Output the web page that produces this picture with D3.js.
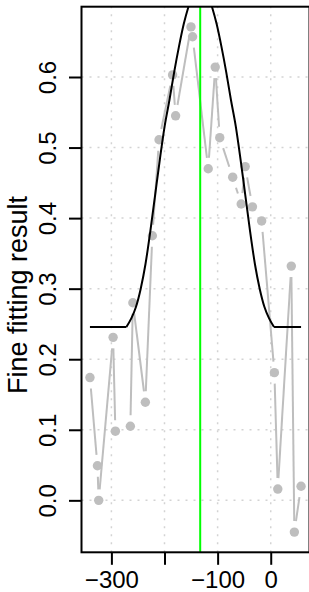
<!DOCTYPE html>
<html>
<head>
<meta charset="utf-8">
<script src="https://cdn.jsdelivr.net/npm/d3@7"></script>
<style>
  body { margin: 0; background: #fff; }
  text { font-family: "Liberation Sans", Arial, sans-serif; fill: #000; }
</style>
</head>
<body>
<script>
const width = 309;
const height = 592;

// observed points (x position, fine fitting result)
const pointX = [-340.4, -326.3, -323.9, -296.8, -292.5, -264.3, -259.6, -236.1, -222.9, -210.3,
                -184.8, -179.1, -150.2, -147.2, -117.7, -104.5, -96.0, -71.6, -55.6, -48.1,
                -34.4, -17.1, 6.9, 13.3, 38.7, 44.5, 57.1];
const pointY = [0.174, 0.049, 0.000, 0.231, 0.098, 0.105, 0.280, 0.139, 0.375, 0.511,
                0.603, 0.545, 0.671, 0.657, 0.470, 0.614, 0.514, 0.458, 0.420, 0.473,
                0.416, 0.396, 0.181, 0.016, 0.332, -0.045, 0.020];

// fitted curve
const fitX = [-340.4, -271.8, -262.8, -253.8, -244.8, -235.8, -226.8, -217.8, -208.8, -199.8,
              -190.8, -181.8, -172.8, -163.8, -154.8, -144.8, -132.8, -120.8, -110.8, -101.8,
              -92.8, -83.8, -74.8, -65.8, -56.8, -47.8, -38.8, -29.8, -20.8, -11.8,
              -2.8, 6.2, 57.1];
const fitY = [0.2457, 0.2457, 0.2575, 0.274, 0.300, 0.335, 0.381, 0.432, 0.483, 0.530,
              0.567, 0.607, 0.643, 0.675, 0.700, 0.722, 0.733, 0.722, 0.700, 0.675,
              0.643, 0.607, 0.567, 0.530, 0.483, 0.432, 0.381, 0.335, 0.300, 0.274,
              0.2575, 0.2457, 0.2457];

const centerX = -132.8;
const xTicks = [-300, -200, -100, 0];
const yTicks = [0.0, 0.1, 0.2, 0.3, 0.4, 0.5, 0.6];
const yLabel = "Fine fitting result";

const plotLeft = 81.5, plotRight = 309.5, plotTop = 6.7, plotBottom = 552.3;
const tickFont = 24, labelFont = 27;

// R style 4% padding on the data range
function padded(vals) {
    let ext = d3.extent(vals);
    let pad = (ext[1] - ext[0]) * 0.04;
    return [ext[0] - pad, ext[1] + pad];
}

const x = d3.scaleLinear().domain(padded(pointX)).range([plotLeft, plotRight]);
const y = d3.scaleLinear().domain(padded(pointY)).range([plotBottom, plotTop]);

let svg = d3.select("body")
    .append("svg")
    .attr("width", width)
    .attr("height", height)
    .attr("xmlns", "http://www.w3.org/2000/svg");

svg.append("defs").append("clipPath")
    .attr("id", "plotclip")
    .append("rect")
    .attr("x", plotLeft)
    .attr("y", plotTop)
    .attr("width", plotRight - plotLeft)
    .attr("height", plotBottom - plotTop);

// dotted grid
let grid = svg.append("g")
    .attr("stroke", "#d3d3d3")
    .attr("stroke-width", 1.5)
    .attr("stroke-dasharray", "2,6");
grid.selectAll("line.gx").data(xTicks).enter().append("line")
    .attr("x1", d => x(d)).attr("x2", d => x(d))
    .attr("y1", plotBottom).attr("y2", plotTop);
grid.selectAll("line.gy").data(yTicks).enter().append("line")
    .attr("x1", plotLeft).attr("x2", plotRight)
    .attr("y1", d => y(d)).attr("y2", d => y(d));

let plot = svg.append("g").attr("clip-path", "url(#plotclip)");

// gray connecting segments with gaps around points (type = "b")
const gap = 11;
let segs = [];
for (let i = 0; i < pointX.length - 1; i++) {
    let x0 = x(pointX[i]), y0 = y(pointY[i]);
    let x1 = x(pointX[i + 1]), y1 = y(pointY[i + 1]);
    let len = Math.hypot(x1 - x0, y1 - y0);
    if (len <= 2 * gap) continue;
    let ux = (x1 - x0) / len, uy = (y1 - y0) / len;
    segs.push([x0 + ux * gap, y0 + uy * gap, x1 - ux * gap, y1 - uy * gap]);
}
plot.selectAll("line.seg").data(segs).enter().append("line")
    .attr("x1", d => d[0]).attr("y1", d => d[1])
    .attr("x2", d => d[2]).attr("y2", d => d[3])
    .attr("stroke", "#bebebe")
    .attr("stroke-width", 2);

plot.selectAll("circle").data(pointX).enter().append("circle")
    .attr("cx", (d, i) => x(d))
    .attr("cy", (d, i) => y(pointY[i]))
    .attr("r", 4.7)
    .attr("fill", "#bebebe");

// fitted curve: flat baseline parts + smooth bell
let fitPts = fitX.map((d, i) => [d, fitY[i]]);
let n = fitPts.length;
let lineLin = d3.line().x(d => x(d[0])).y(d => y(d[1]));
let lineSmooth = d3.line().x(d => x(d[0])).y(d => y(d[1])).curve(d3.curveMonotoneX);
plot.append("path")
    .attr("d", lineLin(fitPts.slice(0, 2)))
    .attr("fill", "none").attr("stroke", "#000").attr("stroke-width", 2);
plot.append("path")
    .attr("d", lineSmooth(fitPts.slice(1, n - 1)))
    .attr("fill", "none").attr("stroke", "#000").attr("stroke-width", 2);
plot.append("path")
    .attr("d", lineLin(fitPts.slice(n - 2)))
    .attr("fill", "none").attr("stroke", "#000").attr("stroke-width", 2);

// green centre line
plot.append("line")
    .attr("x1", x(centerX)).attr("x2", x(centerX))
    .attr("y1", plotTop).attr("y2", plotBottom)
    .attr("stroke", "#00ff00")
    .attr("stroke-width", 2);

// box
svg.append("rect")
    .attr("x", plotLeft).attr("y", plotTop)
    .attr("width", plotRight - plotLeft)
    .attr("height", plotBottom - plotTop)
    .attr("fill", "none")
    .attr("stroke", "#000")
    .attr("stroke-width", 2);

// axes
let xAxis = d3.axisBottom(x).tickValues(xTicks).tickSize(12.5).tickPadding(6.5)
    .tickFormat(d => d3.format("d")(d).replace("-", "\u2212"));
let gx = svg.append("g").attr("transform", `translate(0,${plotBottom})`).call(xAxis);
gx.select(".domain").remove();
gx.selectAll(".tick line").attr("stroke-width", 2);
gx.selectAll(".tick text").attr("font-size", tickFont).style("font-family", "Liberation Sans, Arial, sans-serif");

// like R's axis(): skip a label that would crowd the previous one
let lastRight = -Infinity;
gx.selectAll(".tick").each(function(d) {
    let t = d3.select(this).select("text");
    let w = t.node().getComputedTextLength();
    let left = x(d) - w / 2;
    if (left < lastRight + tickFont * 0.5) {
        t.remove();
    } else {
        lastRight = x(d) + w / 2;
    }
});

let yAxis = d3.axisLeft(y).tickValues(yTicks).tickSize(12.5).tickFormat(d3.format(".1f"));
let gy = svg.append("g").attr("transform", `translate(${plotLeft},0)`).call(yAxis);
gy.select(".domain").remove();
gy.selectAll(".tick line").attr("stroke-width", 2);
gy.selectAll(".tick text")
    .attr("font-size", tickFont)
    .style("font-family", "Liberation Sans, Arial, sans-serif")
    .attr("x", null).attr("dy", null)
    .attr("text-anchor", "middle")
    .attr("transform", "translate(-25.5,0) rotate(-90)");

svg.append("text")
    .attr("transform", `translate(27,295) rotate(-90)`)
    .attr("text-anchor", "middle")
    .attr("font-size", labelFont)
    .text(yLabel);
</script>
</body>
</html>
